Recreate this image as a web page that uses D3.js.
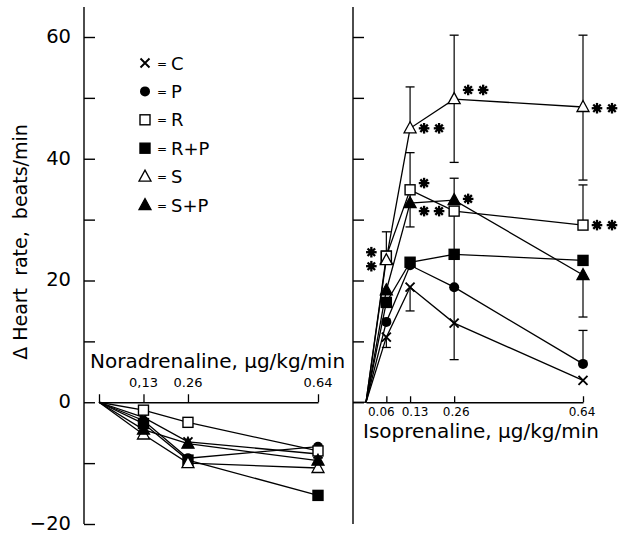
<!DOCTYPE html>
<html>
<head>
<meta charset="utf-8">
<script src="https://cdn.jsdelivr.net/npm/d3@7"></script>
<style>
  body { margin: 0; background: #fff; }
  text { font-family: "DejaVu Sans", sans-serif; fill: #000; }
</style>
</head>
<body>
<div id="chart"></div>
<script>
// doses
const noraDose = [0, 0.13, 0.26, 0.64];
const isoDose = [0, 0.06, 0.13, 0.26, 0.64];
const groups = ["C", "P", "R", "R+P", "S", "S+P"];

// noradrenaline responses (left panel)
const noraC = [0, -2.5, -6.5, -8.5];
const noraP = [0, -3, -9.2, -7.3];
const noraR = [0, -1.3, -3.3, -8];
const noraRP = [0, -3.5, -9.5, -15.3];
const noraS = [0, -5.3, -10, -10.8];
const noraSP = [0, -4.5, -6.8, -9.6];

// isoprenaline responses (right panel)
const isoC = [0, 10.7, 18.9, 13, 3.6];
const isoP = [0, 13.2, 22.5, 18.9, 6.3];
const isoR = [0, 24, 34.9, 31.4, 29.1];
const isoRP = [0, 16.4, 23, 24.3, 23.3];
const isoS = [0, 23.5, 45, 49.8, 48.5];
const isoSP = [0, 18.4, 32.7, 33.2, 20.9];

// error bars (isoprenaline): from the mean to the limit
const errDose = [0.06, 0.06, 0.13, 0.13, 0.13, 0.13, 0.26, 0.26, 0.26, 0.26, 0.26, 0.26, 0.26, 0.64, 0.64, 0.64, 0.64, 0.64];
const errFrom = [24, 10.7, 45, 34.9, 34.9, 18.9, 49.8, 49.8, 33.2, 31.4, 18.9, 18.9, 13, 48.5, 48.5, 29.1, 20.9, 6.3];
const errTo = [28, 9, 51.8, 41, 28.8, 15, 60.3, 39.4, 36.8, 24.3, 24.3, 13, 7, 60.3, 36.5, 35.7, 14, 11.8];
const errCap = [1, 1, 1, 1, 1, 1, 1, 1, 1, 0, 0, 0, 1, 1, 1, 1, 1, 1];

// significance stars
const starDose = [0.06, 0.13, 0.13, 0.13, 0.26, 0.26, 0.64, 0.64];
const starValue = [23.5, 45, 36, 31.4, 51.3, 33.4, 48.3, 29.1];
const starCount = [2, 2, 1, 2, 2, 1, 2, 2];

// axis ticks
const yTicks = [-20, -10, 0, 10, 20, 30, 40, 50, 60];
const yTickLabels = [-20, 0, 20, 40, 60];
const yRightTicks = [0, 10, 20, 30, 40, 50, 60];
const noraTickLabels = ["", "0,13", "0.26", "0.64"];
const isoTicks = [0.06, 0.13, 0.26, 0.64];
const isoTickLabels = ["0.06", "0.13", "0.26", "0.64"];

const noraSeries = [noraC, noraP, noraR, noraRP, noraS, noraSP];
const isoSeries = [isoC, isoP, isoR, isoRP, isoS, isoSP];

const width = 619, height = 534;
const svg = d3.select("#chart").append("svg")
    .attr("width", width)
    .attr("height", height);

const y = d3.scaleLinear().domain([-20, 60]).range([524, 37]);
const xL = d3.scaleLinear().domain([0, 0.64]).range([99, 318]);
const xR = d3.scaleLinear().domain([0, 0.64]).range([366, 583]);

const lw = 1.3;

// left y axis
svg.append("line").attr("x1", 84).attr("x2", 84).attr("y1", 7).attr("y2", y(-20))
    .attr("stroke", "#000").attr("stroke-width", 1.4);
svg.append("g")
    .attr("transform", "translate(84,0)")
    .call(d3.axisRight(y).tickValues(yTicks).tickSize(11).tickFormat(""))
    .call(g => g.select(".domain").remove())
    .selectAll("line").attr("stroke-width", 1.4);
svg.selectAll(".ylab").data(yTickLabels).enter().append("text")
    .attr("x", 71).attr("y", d => y(d)).attr("dy", "0.3em")
    .attr("text-anchor", "end").style("font-size", "19.5px")
    .text(d => d < 0 ? "\u2212" + Math.abs(d) : d);
svg.append("text")
    .attr("transform", "translate(27,242) rotate(-90)")
    .attr("text-anchor", "middle").style("font-size", "19px")
    .attr("xml:space", "preserve")
    .text("\u0394 Heart  rate,  beats/min");

// right y axis
svg.append("line").attr("x1", 353).attr("x2", 353).attr("y1", 7).attr("y2", y(-20))
    .attr("stroke", "#000").attr("stroke-width", 1.4);
svg.append("g")
    .attr("transform", "translate(353,0)")
    .call(d3.axisRight(y).tickValues(yRightTicks).tickSize(11).tickFormat(""))
    .call(g => g.select(".domain").remove())
    .selectAll("line").attr("stroke-width", 1.4);

// left x axis (noradrenaline)
const axL = svg.append("g")
    .attr("transform", "translate(0," + y(0) + ")")
    .call(d3.axisTop(xL).tickValues(noraDose).tickSize(8).tickSizeOuter(0).tickFormat(""));
axL.selectAll("line, path").attr("stroke-width", 1.3);
svg.selectAll(".nlab").data(noraDose).enter().append("text")
    .attr("x", d => xL(d)).attr("y", 387)
    .attr("text-anchor", "middle").style("font-size", "13px")
    .text((d, i) => noraTickLabels[i]);
svg.append("text").attr("x", 90).attr("y", 368).style("font-size", "20px")
    .text("Noradrenaline, \u00b5g/kg/min");

// right x axis (isoprenaline)
svg.append("line").attr("x1", 353).attr("x2", xR(0)).attr("y1", y(0)).attr("y2", y(0))
    .attr("stroke", "#000").attr("stroke-width", 1.3);
const axR = svg.append("g")
    .attr("transform", "translate(0," + y(0) + ")")
    .call(d3.axisTop(xR).tickValues(isoTicks).tickSize(6).tickSizeOuter(0).tickFormat(""));
axR.selectAll("line, path").attr("stroke-width", 1.3);
const isoLabelShift = [-5, 5, 2, -1];
svg.selectAll(".ilab").data(isoTicks).enter().append("text")
    .attr("x", (d, i) => xR(d) + isoLabelShift[i]).attr("y", 416)
    .attr("text-anchor", "middle").style("font-size", "12px")
    .text((d, i) => isoTickLabels[i]);
svg.append("text").attr("x", 363).attr("y", 438).style("font-size", "20px")
    .text("Isoprenaline, \u00b5g/kg/min");

// marker drawing
function marker(g, type, cx, cy) {
    const m = g.append("g").attr("transform", "translate(" + cx + "," + cy + ")");
    if (type === "C") {
        m.append("path").attr("d", "M-4.5,-4.5L4.5,4.5M-4.5,4.5L4.5,-4.5")
            .attr("stroke", "#000").attr("stroke-width", 1.9).attr("fill", "none");
    } else if (type === "P") {
        m.append("circle").attr("r", 5).attr("fill", "#000");
    } else if (type === "R" || type === "R+P") {
        m.append("rect").attr("x", -5).attr("y", -5).attr("width", 10).attr("height", 10)
            .attr("fill", type === "R" ? "#fff" : "#000")
            .attr("stroke", "#000").attr("stroke-width", 1.4);
    } else {
        m.append("path").attr("d", "M0,-6.5L6,4.5L-6,4.5Z")
            .attr("fill", type === "S" ? "#fff" : "#000")
            .attr("stroke", "#000").attr("stroke-width", 1.3).attr("stroke-linejoin", "miter");
    }
}

function star(g, cx, cy) {
    const s = g.append("g").attr("transform", "translate(" + cx + "," + cy + ")");
    [0, 45, 90, 135].forEach(a => {
        s.append("line").attr("x1", -5.3).attr("x2", 5.3).attr("y1", 0).attr("y2", 0)
            .attr("transform", "rotate(" + a + ")")
            .attr("stroke", "#000").attr("stroke-width", 2.3);
    });
    s.append("circle").attr("r", 3).attr("fill", "#000");
}

const line = (xs, dose) => d3.line().x((d, i) => xs(dose[i])).y(d => y(d));

// left panel lines
const gL = svg.append("g");
noraSeries.forEach(s => {
    gL.append("path").datum(s).attr("d", line(xL, noraDose))
        .attr("fill", "none").attr("stroke", "#000").attr("stroke-width", lw);
});
// right panel lines
const gR = svg.append("g");
isoSeries.forEach(s => {
    gR.append("path").datum(s).attr("d", line(xR, isoDose))
        .attr("fill", "none").attr("stroke", "#000").attr("stroke-width", lw);
});
// error bars
errDose.forEach((d, i) => {
    const x = xR(d);
    gR.append("line").attr("x1", x).attr("x2", x)
        .attr("y1", y(errFrom[i])).attr("y2", y(errTo[i]))
        .attr("stroke", "#000").attr("stroke-width", 1.2);
    if (errCap[i]) {
        gR.append("line").attr("x1", x - 4.5).attr("x2", x + 4.5)
            .attr("y1", y(errTo[i])).attr("y2", y(errTo[i]))
            .attr("stroke", "#000").attr("stroke-width", 1.3);
    }
});
// markers (skip dose 0)
groups.forEach((gname, k) => {
    noraSeries[k].forEach((v, i) => { if (i > 0) marker(gL, gname, xL(noraDose[i]), y(v)); });
    isoSeries[k].forEach((v, i) => { if (i > 0) marker(gR, gname, xR(isoDose[i]), y(v)); });
});
// R and S overlap at 0.06: redraw S on top
marker(gR, "R", xR(0.06), y(isoR[1]));
marker(gR, "S", xR(0.06), y(isoS[1]) + 1);

// stars
starDose.forEach((d, i) => {
    if (d === 0.06) {
        for (let j = 0; j < starCount[i]; j++) star(gR, xR(d) - 15, y(starValue[i]) - 7 + j * 14);
    } else {
        for (let j = 0; j < starCount[i]; j++) star(gR, xR(d) + 14 + j * 15, y(starValue[i]));
    }
});

// legend
const legendY = d3.scalePoint().domain(groups).range([63, 205]);
const lg = svg.append("g");
groups.forEach(gname => {
    marker(lg, gname, 145, legendY(gname));
    lg.append("text").attr("x", 157).attr("y", legendY(gname) + 4.5)
        .style("font-size", "12px").text("=");
    lg.append("text").attr("x", 171).attr("y", legendY(gname) + 6.5)
        .style("font-size", "18px").text(gname);
});
</script>
</body>
</html>
